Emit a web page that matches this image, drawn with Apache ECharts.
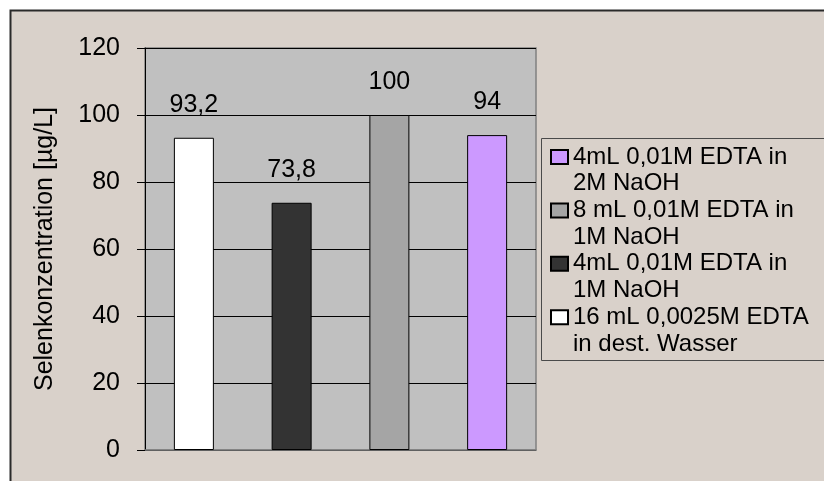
<!DOCTYPE html>
<html>
<head>
<meta charset="utf-8">
<style>
  html, body { margin: 0; padding: 0; background: #ffffff; }
  #chart { width: 824px; height: 481px; }
</style>
<script src="https://cdn.jsdelivr.net/npm/echarts@6/dist/echarts.min.js"></script>
</head>
<body>
<div id="chart"></div>
<script>
// Selenium concentration for four EDTA extraction solutions
const seriesNames = [
  '16 mL 0,0025M EDTA\nin dest. Wasser',
  '4mL 0,01M EDTA in\n1M NaOH',
  '8 mL 0,01M EDTA in\n1M NaOH',
  '4mL 0,01M EDTA in\n2M NaOH'
];
const values = [93.2, 73.8, 100, 94];
const barColors = ['#ffffff', '#333333', '#a5a5a5', '#cc99ff'];
const slots = ['a', 'b', 'c', 'd'];
const yMin = 0, yMax = 120, yStep = 20;

const FONT = '"Liberation Sans", Arial, sans-serif';
const LEGEND_LINE = 26.7;

const series = seriesNames.map((name, i) => ({
  name: name,
  type: 'bar',
  stack: 'all',
  barWidth: 40,
  data: slots.map((s, j) => (j === i ? values[i] : '-')),
  itemStyle: { color: barColors[i], borderColor: '#000000', borderWidth: 1 },
  label: {
    show: true,
    position: 'top',
    distance: 20,
    fontSize: 25,
    fontFamily: FONT,
    color: '#000000',
    formatter: p => String(p.value).replace('.', ',')
  }
}));

const chart = echarts.init(document.getElementById('chart'), null, { renderer: 'canvas' });
chart.setOption({
  animation: false,
  backgroundColor: '#ffffff',
  textStyle: { fontFamily: FONT },
  graphic: [
    {
      type: 'rect', z: -10, silent: true,
      shape: { x: 10.5, y: 10.5, width: 900, height: 600 },
      style: { fill: '#d9d1ca', stroke: '#2a2a2a', lineWidth: 2 }
    },
    {
      type: 'rect', z: 5, silent: true,
      shape: { x: 541.5, y: 138.5, width: 400, height: 222 },
      style: { fill: 'none', stroke: '#4a4a4a', lineWidth: 1 }
    }
  ],
  grid: {
    left: 145, right: 288, top: 48, bottom: 31,
    show: true,
    backgroundColor: '#c0c0c0',
    borderColor: '#808080',
    borderWidth: 1.5
  },
  legend: {
    orient: 'vertical',
    left: 550,
    top: 117,
    padding: 0,
    icon: 'rect',
    itemWidth: 17,
    itemHeight: 14,
    itemGap: -LEGEND_LINE,
    selectedMode: false,
    data: seriesNames.slice().reverse(),
    // leading empty line keeps the swatch level with the first text line
    formatter: name => '\n' + name,
    textStyle: {
      fontSize: 24,
      fontFamily: FONT,
      color: '#000000',
      lineHeight: LEGEND_LINE
    }
  },
  xAxis: {
    type: 'category',
    data: slots,
    axisLine: { show: true, lineStyle: { color: '#808080', width: 1.5 } },
    axisTick: { show: false },
    axisLabel: { show: false },
    splitLine: { show: false }
  },
  yAxis: {
    type: 'value',
    min: yMin, max: yMax, interval: yStep,
    name: 'Selenkonzentration [µg/L]',
    nameLocation: 'middle',
    nameGap: 87,
    nameTextStyle: { fontSize: 25, fontFamily: FONT, color: '#000000' },
    axisLine: { show: true, lineStyle: { color: '#000000', width: 1 } },
    axisTick: { show: true, inside: false, length: 8, lineStyle: { color: '#000000' } },
    axisLabel: { fontSize: 25, fontFamily: FONT, color: '#000000', margin: 25 },
    splitLine: { show: true, lineStyle: { color: '#000000', width: 1 } }
  },
  series: series
});
</script>
</body>
</html>
